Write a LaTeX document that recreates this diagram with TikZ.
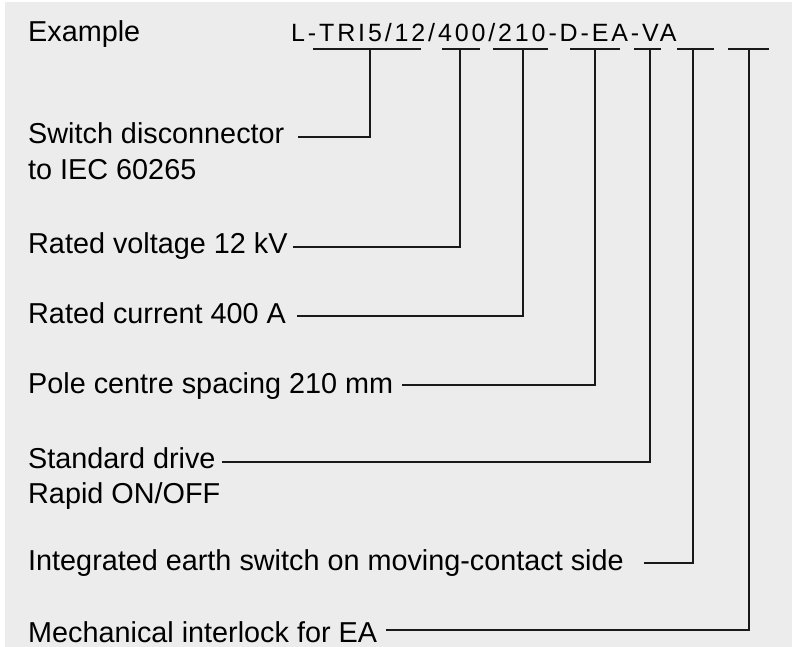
\documentclass[tikz,border=0pt]{standalone}
\usepackage{fontspec}
\setmainfont{Liberation Sans}
\newfontfamily\codefont[LetterSpace=11.5]{Liberation Sans}
\definecolor{bggray}{RGB}{236,236,236}
\definecolor{ink}{RGB}{25,25,25}
\begin{document}
\begin{tikzpicture}[x=1bp,y=-1bp,
  lbl/.style={anchor=base west,inner sep=0pt,font=\fontsize{28.8bp}{34bp}\selectfont,text=black},
  codetxt/.style={anchor=base west,inner sep=0pt,font=\codefont\fontsize{25bp}{30bp}\selectfont,text=black},
  uline/.style={draw=ink,line width=1.6bp},
  conn/.style={draw=ink,line width=1.6bp}]
\useasboundingbox (0,0) rectangle (792,647);
\fill[white] (0,0) rectangle (792,647);
\fill[bggray] (5,2) rectangle (792,647);
% title and code
\node[lbl] (ex) at (28,42) {Example};
\node[codetxt] (code) at (291,42) {L-TRI5/12/400/210-D-EA-VA};
% underline segments
\coordinate (s1a) at (313,49); \coordinate (s1b) at (421,49);
\coordinate (s2a) at (442,49); \coordinate (s2b) at (480,49);
\coordinate (s3a) at (493,49); \coordinate (s3b) at (548,49);
\coordinate (s4a) at (570,49); \coordinate (s4b) at (620,49);
\coordinate (s5a) at (634,49); \coordinate (s5b) at (661,49);
\coordinate (s6a) at (677,49); \coordinate (s6b) at (714,49);
\coordinate (s7a) at (728,49); \coordinate (s7b) at (769,49);
\foreach \i in {1,...,7} {\draw[uline] (s\i a) -- (s\i b);}
% attach points
\coordinate (u1) at (370,49);
\coordinate (u2) at (460,49);
\coordinate (u3) at (523,49);
\coordinate (u4) at (595,49);
\coordinate (u5) at (650,49);
\coordinate (u6) at (693,49);
\coordinate (u7) at (749,49);
% labels
\node[lbl] (t1) at (28,144) {Switch disconnector};
\node[lbl] (t1b) at (28,180) {to IEC 60265};
\node[lbl] (t2) at (28,253) {Rated voltage 12 kV};
\node[lbl] (t3) at (28,323) {Rated current 400 A};
\node[lbl] (t4) at (28,393) {Pole centre spacing 210 mm};
\node[lbl] (t5) at (28,468) {Standard drive};
\node[lbl] (t5b) at (28,503) {Rapid ON/OFF};
\node[lbl] (t6) at (28,570) {Integrated earth switch on moving-contact side};
\node[lbl] (t7) at (28,642) {Mechanical interlock for EA};
% line ends
\coordinate (e1) at (298,137);
\coordinate (e2) at (293,247);
\coordinate (e3) at (297,316);
\coordinate (e4) at (402,385);
\coordinate (e5) at (222,462);
\coordinate (e6) at (644,563);
\coordinate (e7) at (386,630);
\foreach \i in {1,...,7} {\draw[conn] (u\i) |- (e\i);}
\end{tikzpicture}
\end{document}
